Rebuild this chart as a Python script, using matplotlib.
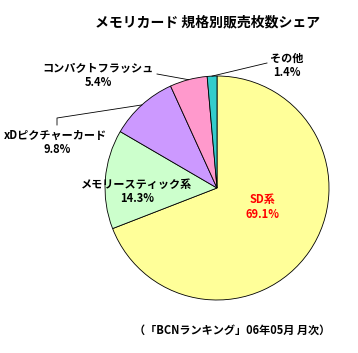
import matplotlib
matplotlib.use("Agg")
import matplotlib.pyplot as plt
import numpy as np

plt.rcParams['font.family'] = ['Noto Sans CJK JP', 'DejaVu Sans']

categories = ["SD系", "メモリースティック系", "xDピクチャーカード", "コンパクトフラッシュ", "その他"]
values = [69.1, 14.3, 9.8, 5.4, 1.4]
colors = ["#FFFF99", "#CCFFCC", "#CC99FF", "#FF99CC", "#33CCCC"]
title = "メモリカード 規格別販売枚数シェア"
footer = "（「BCNランキング」06年05月 月次）"

W, H = 358, 353
fig = plt.figure(figsize=(W/100, H/100), dpi=100)
cx, cy, r = 217, 188, 112
ax = fig.add_axes([(cx - r)/W, (H - cy - r)/H, 2*r/W, 2*r/H])
wedges, _ = ax.pie(values, colors=colors, startangle=90, counterclock=False,
                   wedgeprops=dict(edgecolor='black', linewidth=0.6))
ax.set_xlim(-1, 1); ax.set_ylim(-1, 1)
ax.set_aspect('equal')
ax.axis('off')

def fx(px): return px / W
def fy(py): return 1 - py / H

# label positions (pixels): name center, value center
pos = [((263, 200), (263, 214)),
       ((137, 184), (137, 199)),
       ((55, 135), (57, 150)),
       ((98, 68), (98, 83)),
       ((287, 58), (287, 72))]
tcolors = ['red', 'black', 'black', 'black', 'black']
for i, (cat, v) in enumerate(zip(categories, values)):
    (nx, ny), (vx, vy) = pos[i]
    fig.text(fx(nx), fy(ny), cat, ha='center', va='center', fontsize=8,
             fontweight='bold', color=tcolors[i])
    fig.text(fx(vx), fy(vy), f"{v}%", ha='center', va='center', fontsize=8,
             fontweight='bold', color=tcolors[i])

def edge_px(w):
    a = np.deg2rad((w.theta1 + w.theta2) / 2)
    return cx + r*np.cos(a), cy - r*np.sin(a)

# leader lines
lines = [(2, [(57, 125), (57, 118)]),
         (3, [(157, 74)]),
         (4, [(267, 63)])]
for idx, pts in lines:
    ex, ey = edge_px(wedges[idx])
    xs = [p[0] for p in pts] + [ex]
    ys = [p[1] for p in pts] + [ey]
    fig.add_artist(plt.Line2D([fx(x) for x in xs], [fy(y) for y in ys],
                              color='black', linewidth=0.6))

fig.text(fx(208), fy(22), title, ha='center', va='center', fontsize=10,
         fontweight='bold')
fig.text(fx(232), fy(330), footer, ha='center', va='center', fontsize=8,
         fontweight='bold')

fig.savefig("out.png", dpi=100, facecolor='white')
